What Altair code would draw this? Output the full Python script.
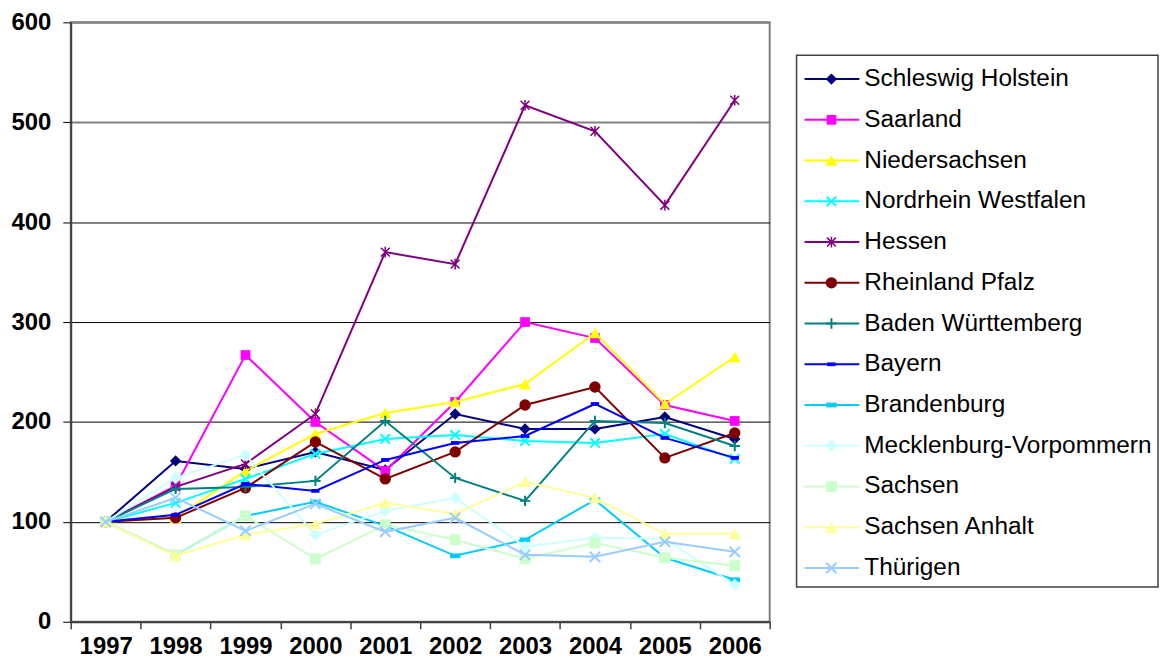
import altair as alt
import pandas as pd

years = ["1997", "1998", "1999", "2000", "2001", "2002", "2003", "2004", "2005", "2006"]

states = [
    "Schleswig Holstein", "Saarland", "Niedersachsen", "Nordrhein Westfalen", "Hessen",
    "Rheinland Pfalz", "Baden Württemberg", "Bayern", "Brandenburg",
    "Mecklenburg-Vorpommern", "Sachsen", "Sachsen Anhalt", "Thürigen",
]

schleswig_holstein = [100, 161, 153, 170, 152, 208, 193, 193, 205, 183]
saarland = [100, 136, 267, 200, 151, 220, 300, 284, 217, 201]
niedersachsen = [100, 104, 151, 188, 209, 220, 238, 289, 218, 265]
nordrhein_westfalen = [100, 119, 143, 168, 183, 187, 181, 179, 188, 163]
hessen = [100, 135, 158, 208, 370, 358, 517, 491, 417, 522]
rheinland_pfalz = [100, 104, 134, 180, 143, 170, 217, 235, 164, 189]
baden_wuerttemberg = [100, 133, 135, 141, 201, 144, 121, 201, 199, 176]
bayern = [100, 107, 138, 131, 162, 179, 186, 218, 184, 164]
brandenburg = [100, 67, 106, 120, 96, 66, 82, 122, 64, 42]
mecklenburg = [100, 144, 167, 87, 111, 124, 75, 84, 83, 37]
sachsen = [100, 67, 106, 63, 97, 82, 63, 79, 64, 56]
sachsen_anhalt = [100, 66, 87, 98, 119, 108, 140, 124, 88, 88]
thuerigen = [100, 124, 91, 118, 90, 104, 67, 65, 80, 70]

series = [schleswig_holstein, saarland, niedersachsen, nordrhein_westfalen, hessen,
          rheinland_pfalz, baden_wuerttemberg, bayern, brandenburg, mecklenburg,
          sachsen, sachsen_anhalt, thuerigen]

colors = ["#000080", "#FF00FF", "#FFFF00", "#00FFFF", "#800080", "#800000", "#008080",
          "#0000FF", "#00CCFF", "#CCFFFF", "#CCFFCC", "#FFFF99", "#99CCFF"]

XSHAPE = "M-1,-1L1,1M-1,1L1,-1"
ASTER = "M-1,-1L1,1M-1,1L1,-1M0,-1.2L0,1.2"
PLUS = "M-1,0L1,0M0,-1L0,1"
DASH = "M-1,-0.45L1,-0.45L1,0.45L-1,0.45Z"

# (shape, filled, size, strokeWidth)
markers = [
    ("diamond", True, 130, 1),
    ("square", True, 95, 1),
    ("triangle-up", True, 150, 1),
    (XSHAPE, False, 90, 2),
    (ASTER, False, 80, 1.5),
    ("circle", True, 130, 1),
    (PLUS, False, 110, 2),
    (DASH, True, 70, 1),
    (DASH, True, 110, 1),
    ("diamond", True, 150, 1),
    ("square", True, 120, 1),
    ("triangle-up", True, 160, 1),
    (XSHAPE, False, 110, 2),
]

rows = []
for s, vals in zip(states, series):
    for y, v in zip(years, vals):
        rows.append({"state": s, "year": y, "value": v})
df = pd.DataFrame(rows)

FONT = "Liberation Sans"

X = alt.X("year:O", sort=years,
          scale=alt.Scale(type="band", paddingInner=0, paddingOuter=0),
          axis=alt.Axis(title=None, labelAngle=0, tickBand="extent", tickSize=7,
                        tickColor="#404040", tickWidth=1.5, domainColor="#404040",
                        domainWidth=2, labelFont=FONT, labelFontWeight="bold",
                        labelFontSize=24, labelColor="black", labelPadding=6,
                        grid=False))
Y = alt.Y("value:Q", scale=alt.Scale(domain=[0, 600], nice=False),
          axis=alt.Axis(title=None, values=[0, 100, 200, 300, 400, 500, 600],
                        tickSize=8, tickColor="black", tickWidth=1,
                        domainColor="#404040", domainWidth=2,
                        labelFont=FONT, labelFontWeight="bold", labelFontSize=24,
                        labelColor="black", labelPadding=12, minExtent=62,
                        grid=True,
                        gridColor=alt.condition(alt.datum.value >= 500,
                                                alt.value("#808080"), alt.value("black")),
                        gridWidth=alt.condition(alt.datum.value >= 500,
                                                alt.value(2), alt.value(1))))

layers = []
for s, c, (shape, filled, size, sw) in zip(states, colors, markers):
    base = alt.Chart(df).transform_filter(alt.datum.state == s)
    layers.append(base.mark_line(color=c, strokeWidth=2).encode(x=X, y=Y))
    layers.append(base.mark_point(shape=shape, filled=filled, color=c, size=size,
                                  strokeWidth=sw, opacity=1).encode(x=X, y=Y))

main = alt.layer(*layers).properties(width=702, height=602)

leg_df = pd.DataFrame({"state": states})
LY = alt.Y("state:N", sort=states,
           scale=alt.Scale(type="point", domain=states, range=[57, 548], padding=0),
           axis=None)

box = alt.Chart(pd.DataFrame({"a": [0]})).mark_rect(
    fill="white", stroke="#404040", strokeWidth=1.5
).encode(x=alt.value(0), x2=alt.value(363), y=alt.value(33), y2=alt.value(567))

leg_layers = [box]
for s, c, (shape, filled, size, sw) in zip(states, colors, markers):
    b = alt.Chart(leg_df).transform_filter(alt.datum.state == s)
    leg_layers.append(b.mark_rule(color=c, strokeWidth=2).encode(
        x=alt.value(8), x2=alt.value(63), y=LY))
    leg_layers.append(b.mark_point(shape=shape, filled=filled, color=c, size=size,
                                   strokeWidth=sw, opacity=1).encode(
        x=alt.value(35), y=LY))
leg_layers.append(alt.Chart(leg_df).mark_text(
    align="left", baseline="middle", font=FONT, fontSize=24.5, color="black"
).encode(x=alt.value(68), y=LY, text="state:N"))

legend = alt.layer(*leg_layers).properties(
    width=363, height=602, view=alt.ViewBackground(stroke="transparent"))

chart = alt.hconcat(main, legend, spacing=23).properties(
    padding={"left": 0, "top": 0, "right": 0, "bottom": 0}
).configure_view(stroke="#808080", strokeWidth=2)

chart.save("out.html", embed_options={"renderer": "svg", "actions": False})
